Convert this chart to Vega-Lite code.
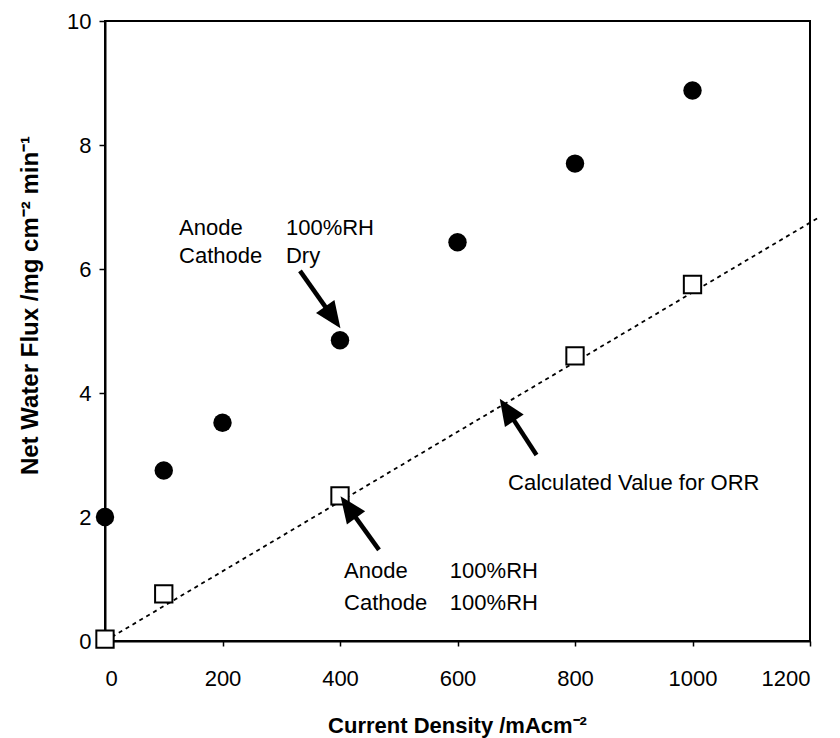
{
  "$schema": "https://vega.github.io/schema/vega-lite/v6.json",
  "width": 705,
  "height": 620,
  "autosize": {"type": "none"},
  "padding": {"left": 105, "top": 21, "right": 30, "bottom": 97},
  "background": "white",
  "config": {
    "font": "Liberation Sans",
    "view": {"stroke": "black", "strokeWidth": 2},
    "axis": {
      "grid": false,
      "domainColor": "black",
      "domainWidth": 2,
      "tickColor": "black",
      "tickWidth": 1.5,
      "labelColor": "black",
      "labelFontSize": 22,
      "labelFont": "Liberation Sans",
      "format": "d",
      "titleColor": "black",
      "titleFont": "Liberation Sans",
      "titleFontWeight": "bold",
      "titleFontSize": 22
    }
  },
  "datasets": {
    "circles": [
      {"cd": 0, "flux": 2.0},
      {"cd": 100, "flux": 2.75},
      {"cd": 200, "flux": 3.52},
      {"cd": 400, "flux": 4.85},
      {"cd": 600, "flux": 6.43},
      {"cd": 800, "flux": 7.7},
      {"cd": 1000, "flux": 8.88}
    ],
    "squares": [
      {"cd": 0, "flux": 0.03},
      {"cd": 100, "flux": 0.76},
      {"cd": 400, "flux": 2.34},
      {"cd": 800, "flux": 4.6},
      {"cd": 1000, "flux": 5.75}
    ],
    "calc": [
      {"cd": 0, "flux": 0},
      {"cd": 1213, "flux": 6.82}
    ],
    "notes": [
      {"x": 126, "y": 6.55, "t": "Anode"},
      {"x": 308, "y": 6.55, "t": "100%RH"},
      {"x": 126, "y": 6.10, "t": "Cathode"},
      {"x": 308, "y": 6.10, "t": "Dry"},
      {"x": 407, "y": 1.02, "t": "Anode"},
      {"x": 587, "y": 1.02, "t": "100%RH"},
      {"x": 407, "y": 0.50, "t": "Cathode"},
      {"x": 587, "y": 0.50, "t": "100%RH"},
      {"x": 686, "y": 2.44, "t": "Calculated Value for ORR"}
    ],
    "arrows": [
      {"id": "a", "x": 331.9, "y": 5.97, "x2": 387.8, "y2": 5.22},
      {"id": "b", "x": 466.4, "y": 1.47, "x2": 414.1, "y2": 2.16},
      {"id": "c", "x": 734.5, "y": 3.0, "x2": 684.3, "y2": 3.73}
    ]
  },
  "layer": [
    {
      "data": {"name": "calc"},
      "mark": {"type": "line", "color": "black", "strokeWidth": 1.8, "strokeDash": [4, 4], "clip": false},
      "encoding": {
        "x": {
          "field": "cd", "type": "quantitative",
          "scale": {"domain": [0, 1200], "nice": false},
          "axis": {
            "values": [0, 200, 400, 600, 800, 1000, 1200],
            "tickSize": 5,
            "labelPadding": 22,
            "title": "Current Density /mAcm⁻²",
            "titleX": 352,
            "titleY": 91,
            "titleBaseline": "alphabetic",
            "titleAlign": "center"
          }
        },
        "y": {
          "field": "flux", "type": "quantitative",
          "scale": {"domain": [0, 10], "nice": false},
          "axis": {
            "values": [0, 2, 4, 6, 8, 10],
            "tickSize": 6,
            "labelPadding": 8,
            "title": "Net Water Flux /mg cm⁻² min⁻¹",
            "titleFontSize": 24,
            "titleX": -68,
            "titleY": 284,
            "titleAngle": 270,
            "titleBaseline": "alphabetic",
            "titleAlign": "center"
          }
        }
      }
    },
    {
      "data": {"name": "squares"},
      "mark": {"type": "point", "shape": "square", "filled": true, "fill": "white", "stroke": "black", "strokeWidth": 2, "size": 300, "opacity": 1, "clip": false},
      "encoding": {
        "x": {"field": "cd", "type": "quantitative"},
        "y": {"field": "flux", "type": "quantitative"}
      }
    },
    {
      "data": {"name": "circles"},
      "mark": {"type": "point", "shape": "circle", "filled": true, "color": "black", "size": 340, "opacity": 1, "clip": false},
      "encoding": {
        "x": {"field": "cd", "type": "quantitative"},
        "y": {"field": "flux", "type": "quantitative"}
      }
    },
    {
      "data": {"name": "arrows"},
      "mark": {"type": "rule", "color": "black", "strokeWidth": 4.5},
      "encoding": {
        "x": {"field": "x", "type": "quantitative"},
        "y": {"field": "y", "type": "quantitative"},
        "x2": {"field": "x2"},
        "y2": {"field": "y2"}
      }
    },
    {
      "data": {"name": "arrows"},
      "transform": [{"filter": "datum.id == 'a'"}],
      "mark": {"type": "point", "shape": "M0,-1L0.85,1L-0.85,1Z", "filled": true, "color": "black", "opacity": 1, "size": 700, "angle": 144.9},
      "encoding": {
        "x": {"field": "x2", "type": "quantitative"},
        "y": {"field": "y2", "type": "quantitative"}
      }
    },
    {
      "data": {"name": "arrows"},
      "transform": [{"filter": "datum.id == 'b'"}],
      "mark": {"type": "point", "shape": "M0,-1L0.85,1L-0.85,1Z", "filled": true, "color": "black", "opacity": 1, "size": 700, "angle": 324.2},
      "encoding": {
        "x": {"field": "x2", "type": "quantitative"},
        "y": {"field": "y2", "type": "quantitative"}
      }
    },
    {
      "data": {"name": "arrows"},
      "transform": [{"filter": "datum.id == 'c'"}],
      "mark": {"type": "point", "shape": "M0,-1L0.85,1L-0.85,1Z", "filled": true, "color": "black", "opacity": 1, "size": 700, "angle": 326.6},
      "encoding": {
        "x": {"field": "x2", "type": "quantitative"},
        "y": {"field": "y2", "type": "quantitative"}
      }
    },
    {
      "data": {"name": "notes"},
      "mark": {"type": "text", "align": "left", "baseline": "alphabetic", "fontSize": 22, "font": "Liberation Sans", "color": "black"},
      "encoding": {
        "x": {"field": "x", "type": "quantitative"},
        "y": {"field": "y", "type": "quantitative"},
        "text": {"field": "t"}
      }
    }
  ]
}
